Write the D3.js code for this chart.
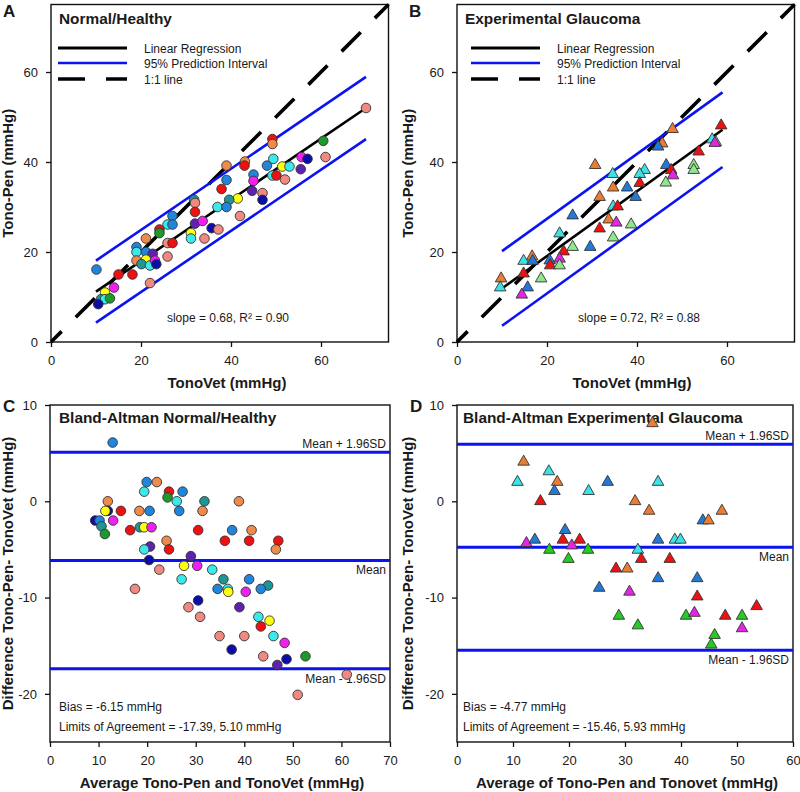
<!DOCTYPE html>
<html><head><meta charset="utf-8">
<script src="https://cdn.jsdelivr.net/npm/d3@7"></script>
<style>
body{margin:0;background:#fff}
text{font-family:"Liberation Sans",Arial,sans-serif;fill:#1a1a1a}
</style></head>
<body><svg id="c" width="800" height="792"></svg>
<script>
// ---------------- DATA ----------------
// Panel A: Normal/Healthy (TonoVet x, Tono-Pen y, subject group)
const normalTonoVet = [70,60.5,61,55.7,57,55.5,51.4,53,49.2,49.2,49.4,48,49.2,50.1,52,45,45,44.7,47,47,39,43.1,43,39,37.9,41.5,39.6,37,39,42,31.8,32,32,27,25.9,27,32,33.7,35.7,37.2,31.1,31.1,34.1,24.1,24.1,21.1,25.9,27,19,19,21.1,22.6,19,21.1,20.1,22,23.1,23.4,25.9,10.1,15,18.1,22,14,12,11.1,12,13.1,10.5];
const normalTonoPen = [52,44.7,41.1,41.1,40.7,38.4,39,39,45.1,44,40.7,39.2,37,37,36.1,37.2,35.8,33.6,33.1,31.6,39.2,40.1,39.2,36,34,31.9,31.6,30,30,28,31.6,30.9,28.9,28,26.1,26.1,26.3,26.9,25.3,25,24.2,23,23,25,24.2,23,22,22,21.1,20,20,19.6,18.1,18.3,17.3,17,18.1,17.3,19,16.1,15,15,13.1,12.1,11,9.5,9.5,9.7,8.4];
const normalGroup = ["salmon","green","salmon","magenta","navy","purple","yellow","cyan","red","orange","cyan","blue","cyan","red","salmon","blue","magenta","purple","salmon","navy","orange","orange","red","blue","red","yellow","teal","cyan","blue","salmon","teal","salmon","red","blue","cyan","blue","purple","magenta","navy","salmon","yellow","cyan","salmon","red","green","orange","salmon","red","blue","cyan","blue","purple","orange","yellow","teal","cyan","magenta","navy","salmon","blue","red","red","salmon","magenta","yellow","teal","cyan","green","navy"];

// Panel B: Experimental Glaucoma
const glaucTonoVet = [58.7,56.7,57.5,57.3,53.7,47.9,45.6,44.7,52.6,52.6,46.5,47.6,48,46.4,41.7,40.6,40.6,37.8,34.7,34.6,30.7,31.7,39.7,34.7,35.7,25.7,33.7,35.4,38.7,31.7,22.8,25.7,29.6,34.7,23.7,16.7,14.8,16.8,20.6,22.8,20.7,22.8,18.7,14.8,9.8,9.6,15.7,14.4];
const glaucTonoPen = [48.1,45,44.4,44.2,42.3,47.3,44.1,43.4,39.3,38.2,39.3,38.2,37,35.4,38.2,37.3,35.3,34.3,34.3,37.3,39.3,32.2,32.2,30.1,30.1,28.1,27.2,26.5,26.1,25.2,24.1,21.1,21.1,23.2,20.1,19,18,18,18.1,18.5,17,17,14.1,15.2,14.1,12.1,12.1,10.5];
const glaucGroup = ["red","cyan","lgreen","magenta","red","orange","orange","blue","lgreen","lgreen","blue","red","magenta","lgreen","cyan","cyan","red","blue","orange","cyan","orange","orange","blue","cyan","red","blue","orange","magenta","lgreen","red","cyan","lgreen","blue","lgreen","red","orange","cyan","blue","blue","magenta","red","lgreen","lgreen","red","orange","cyan","blue","magenta"];

// Panel C: Bland-Altman Normal/Healthy
const baNormalAvg = [12.9,19.9,22,19.4,24.5,27.3,24.2,26.1,26.6,31.8,31.4,38.9,11.9,11.9,11.4,14.6,18.4,20.5,9.3,10.2,10.6,11.3,13,16.5,18.5,19.4,20.9,24,24.5,20.6,19.4,20.4,22.5,30.5,29,27.6,30.3,27.1,33.4,36,37.5,41,41.5,47,46.5,35.7,41,44.9,43.4,34.5,36.6,36.7,40.3,17.5,30.5,28.5,30.9,39,42.9,45.2,43.4,34.9,40,46,48.3,37.4,43.9,48.7,52.6,46.8,61.1,51];
const baNormalDiff = [6.1,2,2,1,1,1,0.4,0,-1,0,-1,0,0,-1,-1,-1,-1,-1,-2,-2,-2.6,-3.4,-2,-3,-2.7,-2.7,-2.7,-4.1,-5,-4.7,-5,-6.1,-7.1,-3,-5.7,-6.7,-6.7,-8.1,-7.1,-4.1,-3,-4.1,-3,-4.1,-5,-8.1,-8.1,-8.75,-9.1,-9.1,-9.1,-9.4,-9.4,-9.1,-10.3,-11,-12,-11,-12,-12.4,-13,-14,-14,-14,-14.7,-15.4,-16.1,-16.4,-16.1,-17,-18,-20.1];
const baNormalGroup = ["blue","blue","orange","cyan","red","blue","green","cyan","blue","teal","orange","orange","orange","navy","yellow","red","orange","blue","navy","blue","teal","green","magenta","red","teal","yellow","magenta","orange","red","purple","cyan","navy","salmon","red","purple","yellow","magenta","cyan","cyan","red","blue","red","orange","red","orange","teal","blue","teal","blue","blue","cyan","yellow","magenta","salmon","navy","salmon","salmon","purple","cyan","yellow","red","salmon","salmon","cyan","magenta","navy","salmon","navy","green","purple","salmon","salmon"];
const baNormalStats = {bias:-6.15, lower:-17.39, upper:5.10};

// Panel D: Bland-Altman Experimental Glaucoma
const baGlaucAvg = [34.9,11.9,10.8,16.4,17.9,17.4,23.5,26.9,35.9,14.9,31.8,34.3,47.3,43.9,44.9,19.3,12.4,13.9,18.9,20.5,21.9,16.5,23.4,19.9,32.3,35.9,38.9,39.9,32.9,38,28.4,30.4,35.9,42.9,25.4,30.8,42.9,28.9,32.3,40.9,42.4,47.9,50.9,53.5,50.9,46,45.4];
const baGlaucDiff = [8.1,4.1,2,3.1,2,1.05,1.05,2,2,0,0,-1,-1,-2,-2,-3,-4.35,-4,-4,-4.6,-4,-5.05,-5.05,-6,-5.05,-4,-4,-4,-6,-6,-7,-7,-8,-8,-9,-9.4,-9.9,-11.9,-12.9,-11.9,-11.6,-11.9,-11.9,-10.9,-13.2,-13.9,-14.9];
const baGlaucGroup = ["orange","orange","cyan","cyan","orange","blue","cyan","blue","cyan","red","orange","orange","orange","blue","orange","blue","magenta","blue","red","magenta","red","green","green","green","cyan","blue","cyan","cyan","red","red","red","orange","blue","blue","blue","magenta","red","green","green","green","magenta","red","green","red","magenta","green","green"];
const baGlaucStats = {bias:-4.77, lower:-15.46, upper:5.93};

const fitNormal = {slope:0.68, intercept:4.4, band:6.9, xmin:10, xmax:70, label:"slope = 0.68, R\u00B2 = 0.90"};
const fitGlauc  = {slope:0.72, intercept:4.7, band:8.3, xmin:10, xmax:59, label:"slope = 0.72, R\u00B2 = 0.88"};

const scatterTicks = [0,20,40,60];
const baYTicks = [-20,-10,0,10];
const baXTicksC = [0,10,20,30,40,50,60,70];
const baXTicksD = [0,10,20,30,40,50,60];
const legendLabels = ["Linear Regression","95% Prediction Interval","1:1 line"];

// ---------------- STYLE ----------------
const circlePal = {red:"#ee1111",salmon:"#f08a80",orange:"#ee8a4c",blue:"#2185dc",cyan:"#3ce8ea",teal:"#1f9595",green:"#1e9a2a",navy:"#0c0ca8",purple:"#5e22b0",magenta:"#f020f0",yellow:"#ffff10"};
const triPal = {red:"#ee1111",orange:"#ea7d32",blue:"#2179d8",cyan:"#3ce2e6",magenta:"#e426e4",lgreen:"#8ee68e",green:"#22cc22"};
const BLUE = "#0b14f0";
const TITLE_SIZE = 15.4;

const svg = d3.select("#c");

function frame(g, x, y){
  const [x0,x1] = x.range(), [y1,y0] = y.range();
  g.append("rect").attr("x",x0).attr("y",y0).attr("width",x1-x0).attr("height",y1-y0)
   .attr("fill","none").attr("stroke","#111").attr("stroke-width",1.4);
}
function axes(g, x, y, xt, yt){
  const ax = g.append("g").attr("transform",`translate(0,${y.range()[0]})`)
    .call(d3.axisBottom(x).tickValues(xt).tickSize(5).tickPadding(9).tickSizeOuter(0).tickFormat(d=>String(d)));
  const ay = g.append("g").attr("transform",`translate(${x.range()[0]},0)`)
    .call(d3.axisLeft(y).tickValues(yt).tickSize(5).tickPadding(8).tickSizeOuter(0).tickFormat(d=>String(d)));
  [ax,ay].forEach(a=>{
    a.select(".domain").remove();
    a.selectAll(".tick line").attr("stroke","#111").attr("stroke-width",1.3);
    a.selectAll(".tick text").attr("font-size",13).attr("fill","#222").style("font-family",'"Liberation Sans",Arial,sans-serif');
  });
}
function label(g, txt, x, y, opts={}){
  const t = g.append("text").attr("x",x).attr("y",y).text(txt)
    .attr("font-size",opts.size||12).attr("font-weight",opts.bold?"bold":"normal")
    .attr("text-anchor",opts.anchor||"start");
  if(opts.rotate) t.attr("transform",`rotate(-90,${x},${y})`);
  return t;
}

function scatterPanel(letter, title, fit, xr, yr, legendX, xTitleX, yTitleX, statX){
  const g = svg.append("g");
  const x = d3.scaleLinear().domain([0,75]).range(xr);
  const y = d3.scaleLinear().domain([0,75]).range(yr);
  frame(g,x,y);
  axes(g,x,y,scatterTicks,scatterTicks);
  label(g, letter, xr[0]-48, 17, {size:17,bold:true});
  label(g, title, xr[0]+8, 24, {size:TITLE_SIZE,bold:true});
  // legend
  const ly = [48,63,79];
  const styles = [{c:"#000",w:3.2,d:null},{c:BLUE,w:2.6,d:null},{c:"#000",w:3.6,d:"27,21"}];
  legendLabels.forEach((t,i)=>{
    g.append("line").attr("x1",legendX).attr("x2",legendX+69).attr("y1",ly[i]).attr("y2",ly[i])
      .attr("stroke",styles[i].c).attr("stroke-width",styles[i].w).attr("stroke-dasharray",styles[i].d);
    label(g, t, legendX+86, ly[i]+4.5, {size:12});
  });
  label(g, fit.label, statX, 322, {size:12, anchor:"middle"});
  label(g, "TonoVet (mmHg)", xTitleX, 388, {size:15,bold:true,anchor:"middle"});
  label(g, "Tono-Pen (mmHg)", yTitleX, (yr[0]+yr[1])/2, {size:15,bold:true,anchor:"middle",rotate:true});

  // 1:1 line
  const ln = d3.line().x(d=>x(d)).y(d=>y(d));
  g.append("path").datum([0,75]).attr("d",ln).attr("fill","none").attr("stroke","#000")
    .attr("stroke-width",3.6).attr("stroke-dasharray","27,20").attr("stroke-dashoffset",12);
  // regression and prediction interval
  const fl = off => d3.line().x(d=>x(d)).y(d=>y(fit.slope*d+fit.intercept+off));
  [[fit.band,BLUE,2.6],[-fit.band,BLUE,2.6],[0,"#000",2.6]].forEach(([o,c,w])=>{
    g.append("path").datum([fit.xmin,fit.xmax]).attr("d",fl(o)).attr("fill","none").attr("stroke",c).attr("stroke-width",w);
  });
  return {g,x,y};
}

function drawCircles(g,x,y,xs,ys,groups){
  g.append("g").selectAll("circle").data(xs).join("circle")
    .attr("cx",(d,i)=>x(xs[i])).attr("cy",(d,i)=>y(ys[i])).attr("r",4.8)
    .attr("fill",(d,i)=>circlePal[groups[i]]).attr("stroke","#333").attr("stroke-width",0.9);
}
function drawTriangles(g,x,y,xs,ys,groups){
  const sym = d3.symbol().type(d3.symbolTriangle).size(58);
  g.append("g").selectAll("path").data(xs).join("path")
    .attr("d",sym).attr("transform",(d,i)=>`translate(${x(xs[i])},${y(ys[i])})`)
    .attr("fill",(d,i)=>triPal[groups[i]]).attr("stroke","#333").attr("stroke-width",0.9);
}

// Panel A
const A = scatterPanel("A","Normal/Healthy",fitNormal,[51,388.5],[342,4.5],58,227,13,228);
drawCircles(A.g,A.x,A.y,normalTonoVet,normalTonoPen,normalGroup);
// Panel B
const B = scatterPanel("B","Experimental Glaucoma",fitGlauc,[457,794.5],[342,4.5],471,632,413,639);
drawTriangles(B.g,B.x,B.y,glaucTonoVet,glaucTonoPen,glaucGroup);

function baPanel(letter,title,xmax,xr,xt,stats,xTitle,xTitleX,yTitleX,textX){
  const g = svg.append("g");
  const x = d3.scaleLinear().domain([0,xmax]).range(xr);
  const y = d3.scaleLinear().domain([-25,10]).range([742,405]);
  frame(g,x,y);
  axes(g,x,y,xt,baYTicks);
  label(g, letter, xr[0]-47, 412, {size:17,bold:true});
  label(g, title, textX, 423, {size:TITLE_SIZE,bold:true});
  [stats.upper,stats.bias,stats.lower].forEach(v=>{
    g.append("line").attr("x1",xr[0]).attr("x2",xr[1]).attr("y1",y(v)).attr("y2",y(v))
      .attr("stroke",BLUE).attr("stroke-width",3);
  });
  const rx = xr[1]-4;
  label(g,"Mean + 1.96SD",rx,y(stats.upper)-4.5,{size:12,anchor:"end"});
  label(g,"Mean",rx,y(stats.bias)+13.5,{size:12,anchor:"end"});
  label(g,"Mean - 1.96SD",rx,y(stats.lower)+14,{size:12,anchor:"end"});
  label(g,`Bias = ${stats.bias.toFixed(2)} mmHg`,textX,711,{size:12});
  label(g,`Limits of Agreement = ${stats.lower.toFixed(2)}, ${stats.upper.toFixed(2)} mmHg`,textX,731,{size:12});
  label(g,xTitle,xTitleX,788,{size:15,bold:true,anchor:"middle"});
  label(g,"Difference Tono-Pen- TonoVet (mmHg)",yTitleX,573.5,{size:15,bold:true,anchor:"middle",rotate:true});
  return {g,x,y};
}
const C = baPanel("C","Bland-Altman Normal/Healthy",70,[50,390],baXTicksC,baNormalStats,"Average Tono-Pen and TonoVet (mmHg)",222,13,59);
drawCircles(C.g,C.x,C.y,baNormalAvg,baNormalDiff,baNormalGroup);
const D = baPanel("D","Bland-Altman Experimental Glaucoma",60,[457,793],baXTicksD,baGlaucStats,"Average of Tono-Pen and Tonovet (mmHg)",627,413,463);
drawTriangles(D.g,D.x,D.y,baGlaucAvg,baGlaucDiff,baGlaucGroup);
</script></body></html>
